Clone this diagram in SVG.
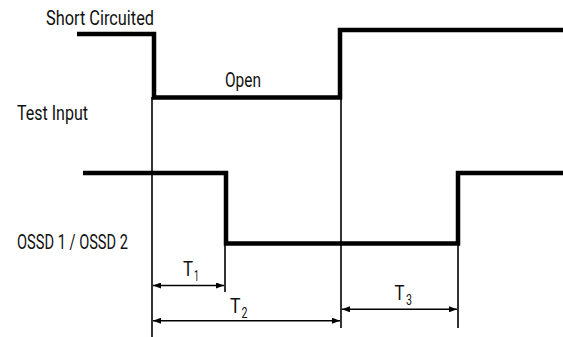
<svg xmlns="http://www.w3.org/2000/svg" width="563" height="337" viewBox="0 0 563 337">
<defs>
<style>
.wave{fill:none;stroke:#000;stroke-width:4.5;stroke-linejoin:miter}
.guide{stroke:#000;stroke-width:1.6;fill:none}
.dim{stroke:#000;stroke-width:1.6;fill:none;marker-start:url(#ah);marker-end:url(#ah)}
.lbl{font-family:Roboto,"Liberation Sans",sans-serif;font-size:20px;fill:#111}
.sub{font-family:Roboto,"Liberation Sans",sans-serif;font-size:14px;fill:#111}
</style>
<marker id="ah" viewBox="0 0 8 6" refX="8" refY="3" markerWidth="5" markerHeight="3.75" orient="auto-start-reverse" markerUnits="strokeWidth">
<path d="M0,0 L8,3 L0,6 Z" fill="#000"/>
</marker>
</defs>
<g id="test-input">
<polyline class="wave" points="77,34 154,34 154,97.5 340,97.5 340,30 563,30"/>
<text class="lbl" x="46" y="25" textLength="108" lengthAdjust="spacingAndGlyphs">Short Circuited</text>
<text class="lbl" x="17" y="120" textLength="71" lengthAdjust="spacingAndGlyphs">Test Input</text>
<text class="lbl" x="225" y="87" textLength="36" lengthAdjust="spacingAndGlyphs">Open</text>
</g>
<g id="ossd">
<polyline class="wave" points="83,173 226,173 226,243.5 458,243.5 458,173 563,173"/>
<text class="lbl" x="17" y="249" textLength="111" lengthAdjust="spacingAndGlyphs">OSSD 1 / OSSD 2</text>
</g>
<g id="connectors">
<line class="guide" x1="152" y1="97" x2="152" y2="337"/>
<line class="guide" x1="225" y1="243" x2="225" y2="292"/>
<line class="guide" x1="341" y1="97" x2="341" y2="328"/>
<line class="guide" x1="458" y1="243" x2="458" y2="328"/>
<line class="dim" x1="153" y1="285.5" x2="224" y2="285.5"/>
<line class="dim" x1="153" y1="320.7" x2="340" y2="320.7"/>
<line class="dim" x1="342" y1="309.3" x2="457" y2="309.3"/>
</g>
<g id="t1">
<text class="lbl" x="183" y="276" textLength="10" lengthAdjust="spacingAndGlyphs">T</text>
<text class="sub" x="194" y="281" textLength="5" lengthAdjust="spacingAndGlyphs">1</text>
</g>
<g id="t2">
<text class="lbl" x="230" y="313" textLength="10.5" lengthAdjust="spacingAndGlyphs">T</text>
<text class="sub" x="241.5" y="318" textLength="6" lengthAdjust="spacingAndGlyphs">2</text>
</g>
<g id="t3">
<text class="lbl" x="394.5" y="300" textLength="10" lengthAdjust="spacingAndGlyphs">T</text>
<text class="sub" x="406" y="305" textLength="6" lengthAdjust="spacingAndGlyphs">3</text>
</g>
</svg>
